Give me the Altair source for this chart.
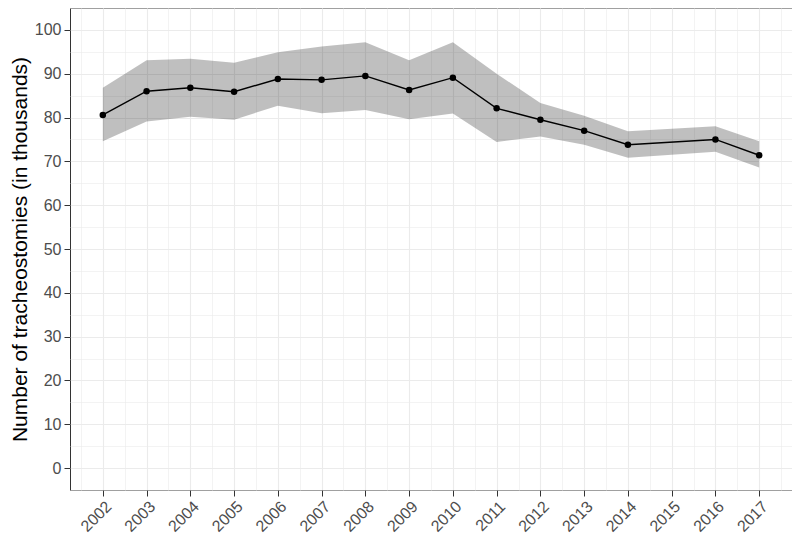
import altair as alt
import pandas as pd

years = [2002, 2003, 2004, 2005, 2006, 2007, 2008, 2009, 2010, 2011, 2012, 2013, 2014, 2016, 2017]
estimate = [80.6, 86.0, 86.8, 85.9, 88.8, 88.6, 89.5, 86.3, 89.1, 82.1, 79.5, 77.0, 73.8, 75.0, 71.4]
upper = [86.8, 93.1, 93.4, 92.5, 94.9, 96.2, 97.2, 93.1, 97.2, 90.0, 83.3, 80.4, 76.9, 78.0, 74.6]
lower = [74.6, 79.1, 80.2, 79.5, 82.7, 81.0, 81.7, 79.6, 80.9, 74.4, 75.7, 73.8, 70.8, 72.2, 68.6]

year_ticks = list(range(2002, 2018))
year_minor = [y + 0.5 for y in range(2001, 2018)]
y_major = list(range(0, 101, 10))
y_minor = [v + 5 for v in range(-10, 101, 10)]

df = pd.DataFrame({"year": years, "est": estimate, "hi": upper, "lo": lower})

FONT = "Liberation Sans"
xscale = alt.Scale(domain=[2001.25, 2017.75], nice=False, zero=False)
yscale = alt.Scale(domain=[-5, 105], nice=False, zero=False)

base = alt.Chart(df)

minor = base.mark_point(opacity=0).encode(
    x=alt.X("year:Q", scale=xscale, axis=alt.Axis(values=year_minor, grid=True, gridColor="#EBEBEB",
                                                   gridWidth=0.6, labels=False, ticks=False, domain=False,
                                                   title=None, orient="top")),
    y=alt.Y("est:Q", scale=yscale, axis=alt.Axis(values=y_minor, grid=True, gridColor="#EBEBEB",
                                                  gridWidth=0.6, labels=False, ticks=False, domain=False,
                                                  title=None, orient="right")),
)

band = base.mark_area(color="black", opacity=0.25).encode(
    x=alt.X("year:Q", scale=xscale,
            axis=alt.Axis(values=year_ticks, format="d", grid=True, gridColor="#EBEBEB", gridWidth=1.1,
                          labelAngle=315, labelAlign="right", labelBaseline="top", labelFontSize=16,
                          labelColor="#4D4D4D", labelFont=FONT, tickColor="#333333", tickSize=6,
                          domain=False, title=None, labelPadding=2, orient="bottom")),
    y=alt.Y("lo:Q", scale=yscale,
            axis=alt.Axis(values=y_major, grid=True, gridColor="#EBEBEB", gridWidth=1.1,
                          labelFontSize=16, labelColor="#4D4D4D", labelFont=FONT, tickColor="#333333",
                          tickSize=6, domain=False, title="Number of tracheostomies (in thousands)",
                          titleFont=FONT, titleFontSize=21, titleFontWeight="normal", titleColor="black",
                          titlePadding=4, labelPadding=3, orient="left")),
    y2="hi:Q",
)

line = base.mark_line(color="black", strokeWidth=1.4).encode(
    x=alt.X("year:Q", scale=xscale, axis=None), y=alt.Y("est:Q", scale=yscale, axis=None))
pts = base.mark_circle(color="black", size=42, opacity=1).encode(
    x=alt.X("year:Q", scale=xscale, axis=None), y=alt.Y("est:Q", scale=yscale, axis=None))

chart = alt.layer(minor, band, line, pts).resolve_axis(x="independent", y="independent").properties(
    width=722, height=482,
    autosize=alt.AutoSizeParams(type="none"),
    padding={"left": 62, "top": 0, "right": 0, "bottom": 48},
).configure_view(stroke="#333333", strokeWidth=1)

chart.save("out.html", embed_options={"renderer": "svg", "actions": False})
